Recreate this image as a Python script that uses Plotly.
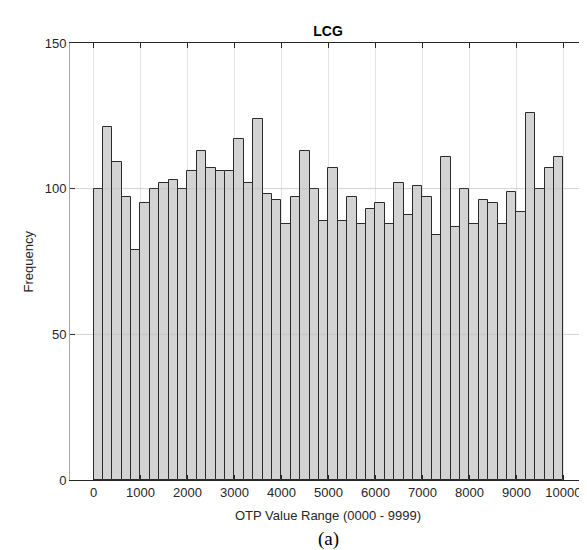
import plotly.graph_objects as go

bin_start = 0
bin_width = 200
counts = [100, 121, 109, 97, 79, 95, 100, 102, 103, 100,
          106, 113, 107, 106, 106, 117, 102, 124, 98, 96,
          88, 97, 113, 100, 89, 107, 89, 97, 88, 93,
          95, 88, 102, 91, 101, 97, 84, 111, 87, 100,
          88, 96, 95, 88, 99, 92, 126, 100, 107, 111]
x_ticks = list(range(0, 10001, 1000))
y_ticks = [0, 50, 100, 150]

centers = [bin_start + bin_width * (i + 0.5) for i in range(len(counts))]

W, H = 587, 550
L, R, T, B = 62, 9, 35, 78
pw, ph = W - L - R, H - T - B
bottom = T + ph

fig = go.Figure()
fig.add_trace(go.Bar(
    x=centers, y=counts, width=bin_width,
    marker=dict(color="rgb(211,211,211)", line=dict(color="#2b2b2b", width=1)),
    showlegend=False,
))

font = "Liberation Sans, Arial, sans-serif"
fig.update_layout(
    width=W, height=H,
    margin=dict(l=L, r=R, t=T, b=B),
    paper_bgcolor="white", plot_bgcolor="white",
    font=dict(family=font, size=13, color="#262626"),
    title=dict(text="<b>LCG</b>", x=(L + pw / 2) / W, xanchor="center",
               y=1 - 23 / H, yanchor="middle", yref="container",
               font=dict(family=font, size=14, color="#000")),
    bargap=0,
    xaxis=dict(range=[-500, 10480], tickvals=x_ticks, ticktext=[str(v) for v in x_ticks],
               showgrid=True, gridcolor="#e4e4e4", gridwidth=1,
               showline=True, linecolor="#262626", linewidth=1, mirror="allticks",
               ticks="inside", ticklen=5, tickcolor="#262626", zeroline=False,
               tickfont=dict(size=13, color="#262626")),
    yaxis=dict(range=[0, 150], tickvals=y_ticks,
               showgrid=True, gridcolor="#e4e4e4", gridwidth=1,
               showline=True, linecolor="#a8a8a8", linewidth=1, mirror="allticks",
               ticks="inside", ticklen=5, tickcolor="#262626", zeroline=False,
               tickfont=dict(size=13, color="#262626")),
)

# light grid drawn over the bars (MATLAB style)
for yv in y_ticks[1:-1]:
    fig.add_shape(type="line", xref="paper", yref="y", x0=0, x1=1, y0=yv, y1=yv,
                  line=dict(color="rgba(120,120,120,0.15)", width=1), layer="above")

fig.add_annotation(text="OTP Value Range (0000 - 9999)", xref="paper", yref="paper",
                   x=0.5, y=-(507 - bottom) / ph,
                   xanchor="center", yanchor="middle", showarrow=False,
                   font=dict(family=font, size=13, color="#262626"))
fig.add_annotation(text="Frequency", xref="paper", yref="paper",
                   x=-(L - 20) / pw, y=0.5, textangle=-90,
                   xanchor="center", yanchor="middle", showarrow=False,
                   font=dict(family=font, size=13, color="#262626"))
fig.add_annotation(text="(a)", xref="paper", yref="paper",
                   x=0.5, y=-(531 - bottom) / ph,
                   xanchor="center", yanchor="middle", showarrow=False,
                   font=dict(family="Liberation Serif, Times New Roman, serif", size=19, color="#000"))

fig.write_html("out.html")
